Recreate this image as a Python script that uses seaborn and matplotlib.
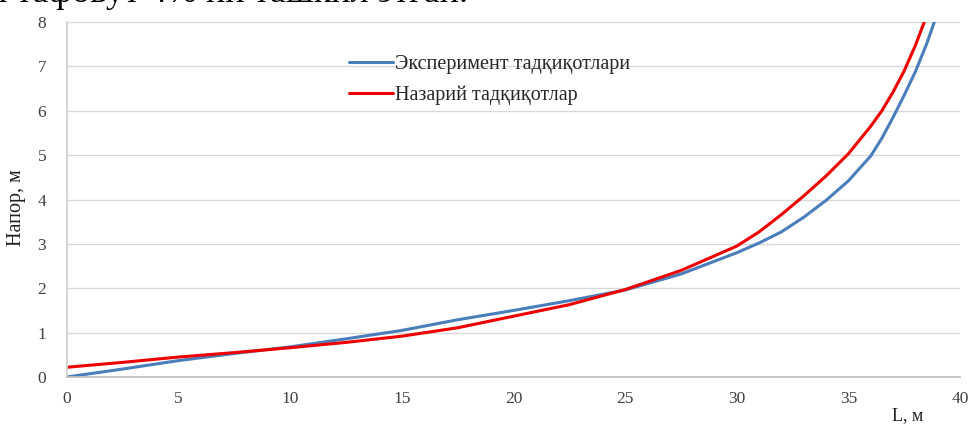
import matplotlib
matplotlib.use("Agg")
import matplotlib.pyplot as plt
import seaborn as sns
import pandas as pd
from matplotlib.lines import Line2D

# Data
exp_L = [0, 2.5, 5, 7.5, 10, 12.5, 15, 17.5, 20, 22.5, 25, 27.5, 30, 31, 32, 33, 34, 35, 36, 36.5, 37, 37.5, 38, 38.5, 38.85]
exp_H = [0, 0.18, 0.37, 0.53, 0.68, 0.86, 1.05, 1.29, 1.50, 1.72, 1.96, 2.32, 2.80, 3.02, 3.27, 3.60, 3.98, 4.42, 4.98, 5.38, 5.85, 6.35, 6.88, 7.50, 8.0]
theo_L = [0, 2.5, 5, 7.5, 10, 12.5, 15, 17.5, 20, 22.5, 25, 27.5, 30, 31, 32, 33, 34, 35, 36, 36.5, 37, 37.5, 38, 38.4]
theo_H = [0.22, 0.33, 0.45, 0.55, 0.66, 0.78, 0.92, 1.11, 1.37, 1.63, 1.97, 2.40, 2.95, 3.27, 3.66, 4.08, 4.53, 5.03, 5.65, 6.00, 6.42, 6.90, 7.47, 8.0]
series_names = ["Эксперимент тадқиқотлари", "Назарий тадқиқотлар"]
x_ticks = [0, 5, 10, 15, 20, 25, 30, 35, 40]
y_ticks = [0, 1, 2, 3, 4, 5, 6, 7, 8]

df = pd.concat([
    pd.DataFrame({"L": exp_L, "H": exp_H, "s": series_names[0]}),
    pd.DataFrame({"L": theo_L, "H": theo_H, "s": series_names[1]}),
])

BLUE = "#4a7ebb"
RED = "#ee0000"

sns.set_theme(style="white")
plt.rcParams["font.family"] = ["Liberation Serif", "DejaVu Serif"]

fig = plt.figure(figsize=(9.7, 4.28), dpi=100)
ax = fig.add_axes([67/970, 1 - 377/428, (960 - 67)/970, (377 - 22)/428])

sns.lineplot(data=df, x="L", y="H", hue="s", sort=False,
             palette={series_names[0]: BLUE, series_names[1]: RED},
             linewidth=2.2, ax=ax, legend=False)

ax.set_xlim(0, 40)
ax.set_ylim(0, 8)
ax.set_xticks(x_ticks)
ax.set_yticks(y_ticks)
ax.tick_params(axis="both", length=0, labelsize=12.5, colors="#404040")
ax.tick_params(axis="x", pad=10)
ax.tick_params(axis="y", pad=15)
ax.yaxis.grid(True, color="#d9d9d9", linewidth=1)
ax.xaxis.grid(False)
for side in ["top", "right"]:
    ax.spines[side].set_visible(False)
ax.spines["left"].set_color("#d0d0d0")
ax.spines["bottom"].set_color("#bfbfbf")
ax.set_xlabel("")
ax.set_ylabel("")

fig.text(17/970, 1 - 208/428, "Напор, м", rotation=90, ha="center", va="center",
         fontsize=14.5, color="#202020")
fig.text(923/970, 1 - 416/428, "L, м", ha="right", va="center",
         fontsize=13, color="#202020")

handles = [Line2D([0], [0], color=BLUE, lw=2.2),
           Line2D([0], [0], color=RED, lw=2.2)]
ax.legend(handles, series_names, loc="upper left",
          bbox_to_anchor=((349 - 67)/893, (377 - 55)/355),
          frameon=False, fontsize=14.5, handlelength=2.2,
          handletextpad=0.1, labelspacing=0.55, borderaxespad=0,
          borderpad=0)

fig.text(-0.012, 1 - 1.5/428, "и тафовут 4% ни ташкил этган.", ha="left", va="baseline",
         fontsize=26, color="#000000")

fig.savefig("out.png", dpi=100)
